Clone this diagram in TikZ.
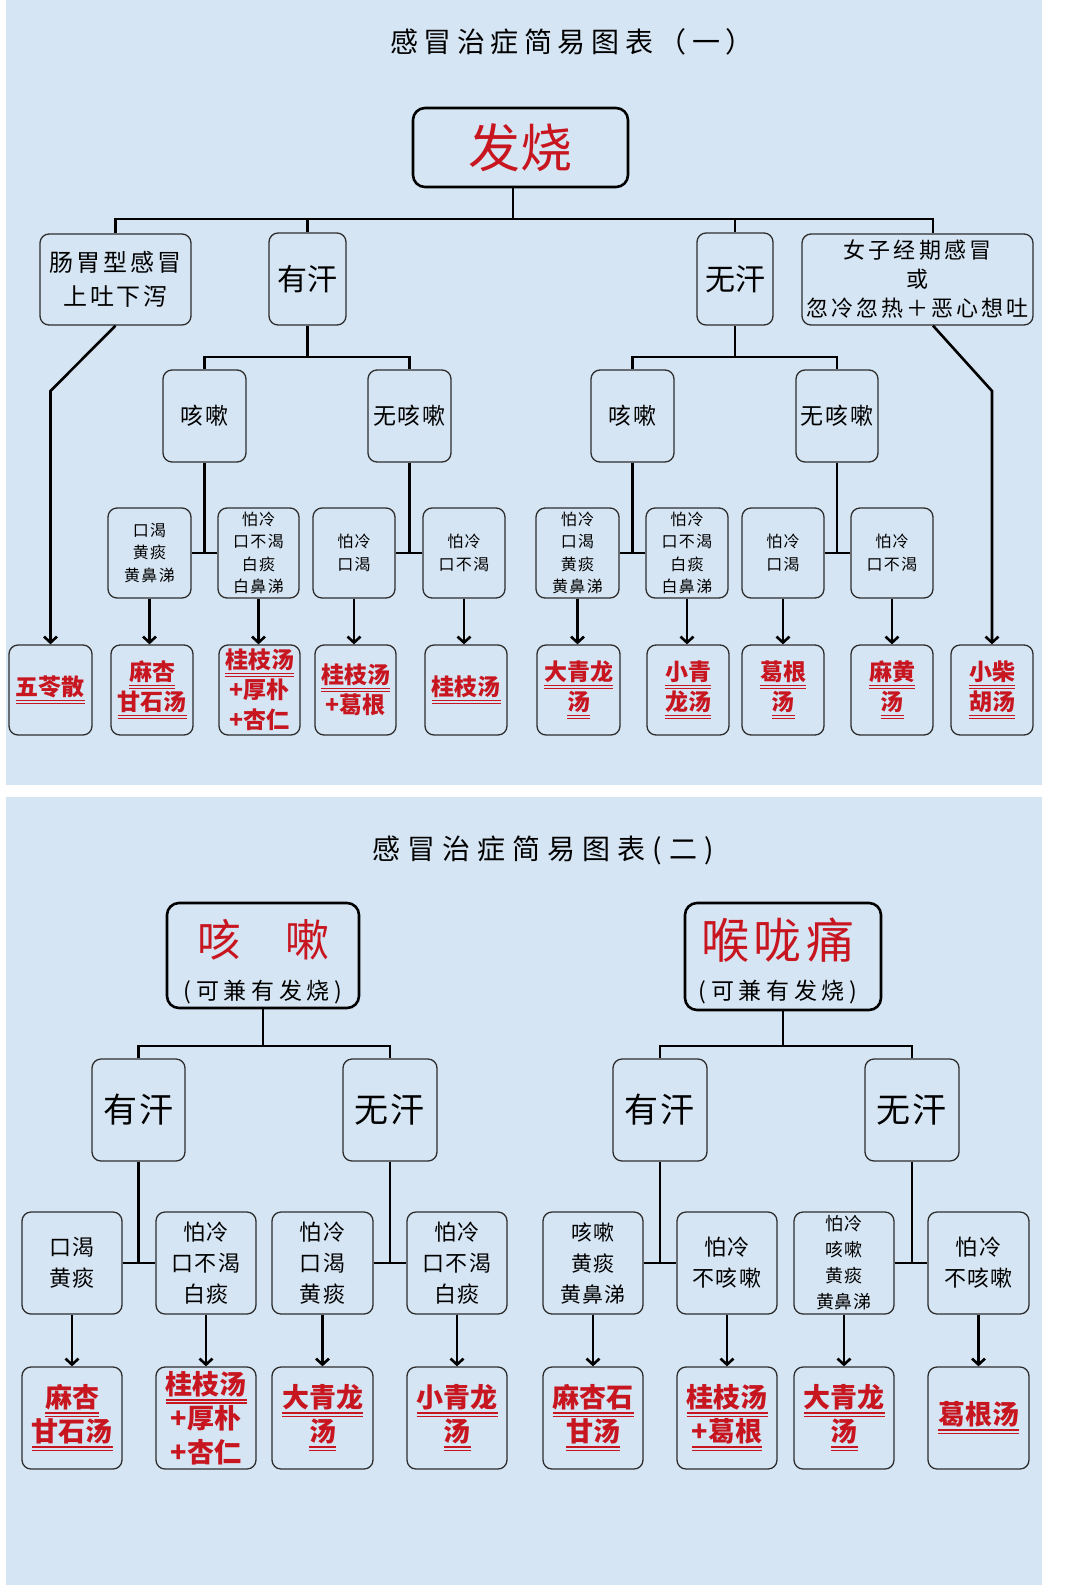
\documentclass[tikz,border=0pt]{standalone}
\usepackage{fontspec}
\setmainfont{Noto Sans CJK SC}
\usetikzlibrary{arrows.meta}
\definecolor{bg}{RGB}{214,229,243}
\definecolor{rd}{RGB}{200,22,32}
\definecolor{bd}{RGB}{45,45,45}
\newcommand\fsz[2]{\fontsize{#1}{#2}\selectfont}
\newcommand\lsp[1]{\addfontfeature{LetterSpace=#1}}
\newcommand\uln[1]{\setbox0\hbox{#1}\leavevmode\rlap{\rule[-0.24em]{\wd0}{0.07em}}\rlap{\rule[-0.36em]{\wd0}{0.06em}}\box0}
\newcommand\Bx[7][box]{\node[#1, minimum width={(#5-#3)*1pt}, minimum height={(#6-#4)*1pt}] (#2) at ({(#3+#5)/2},{(#4+#6)/2}) {#7};}
\tikzset{
  box/.style={draw=bd, line width=1.3pt, rounded corners=9pt, inner sep=0pt, align=center},
  hbox/.style={box, draw=black, line width=2.6pt, rounded corners=12pt},
  conn/.style={line width=2.6pt, black},
  arr/.style={conn, -{Straight Barb[length=6pt,width=13pt]}},
  mid/.style={box, font=\fsz{23}{28}\lsp{8}},
  ch/.style={box, font=\fsz{16}{22.5}\lsp{8}},
  res/.style={box, text=rd, font=\bfseries\fsz{23}{30}},
  chb/.style={box, font=\fsz{22}{31}\lsp{5}},
  resb/.style={box, text=rd, font=\bfseries\fsz{27}{34}},
}
\begin{document}
\begin{tikzpicture}[x=1pt,y=-1pt]
\useasboundingbox (0,0) rectangle (1080,1585);
\fill[white] (0,0) rectangle (1080,1585);
\fill[bg] (6,0) rectangle (1042,785);
\fill[bg] (6,797) rectangle (1042,1585);

% ---------- Panel 1 ----------
\node[font=\fsz{28}{32}\lsp{20}] (t1) at (572,42) {感冒治症简易图表（一）};
\Bx[hbox,text=rd,font=\fsz{52}{60}]{fs}{413}{108}{628}{187}{发烧}
\Bx[box,font=\fsz{24}{34}\lsp{12}]{gut}{40}{234}{191}{325}{肠胃型感冒\\上吐下泻}
\Bx[box,font=\fsz{30}{36}]{yh1}{269}{233}{346}{325}{有汗}
\Bx[box,font=\fsz{30}{36}]{wh1}{697}{233}{773}{325}{无汗}
\Bx[box,font=\fsz{22}{29}\lsp{14}]{wom}{802}{234}{1033}{325}{女子经期感冒\\或\\忽冷忽热＋恶心想吐}

\Bx[mid]{ks1}{163}{370}{246}{462}{咳嗽}
\Bx[mid]{nks1}{368}{370}{451}{462}{无咳嗽}
\Bx[mid]{ks2}{591}{370}{674}{462}{咳嗽}
\Bx[mid]{nks2}{796}{370}{878}{462}{无咳嗽}

\Bx[ch]{c1}{108}{508}{191}{598}{口渴\\黄痰\\黄鼻涕}
\Bx[ch]{c2}{218}{508}{299}{598}{怕冷\\口不渴\\白痰\\白鼻涕}
\Bx[ch]{c3}{313}{508}{395}{598}{怕冷\\口渴}
\Bx[ch]{c4}{423}{508}{505}{598}{怕冷\\口不渴}
\Bx[ch]{c5}{536}{508}{619}{598}{怕冷\\口渴\\黄痰\\黄鼻涕}
\Bx[ch]{c6}{646}{508}{728}{598}{怕冷\\口不渴\\白痰\\白鼻涕}
\Bx[ch]{c7}{742}{508}{824}{598}{怕冷\\口渴}
\Bx[ch]{c8}{851}{508}{933}{598}{怕冷\\口不渴}

\Bx[res]{r1}{9}{645}{92}{735}{\uln{五苓散}}
\Bx[res]{r2}{111}{645}{193}{735}{\uln{麻杏}\\\uln{甘石汤}}
\Bx[res]{r3}{219}{645}{300}{735}{\uln{桂枝汤}\\+厚朴\\+杏仁}
\Bx[res]{r4}{315}{645}{396}{735}{\uln{桂枝汤}\\+葛根}
\Bx[res]{r5}{425}{645}{507}{735}{\uln{桂枝汤}}
\Bx[res]{r6}{537}{645}{620}{735}{\uln{大青龙}\\\uln{汤}}
\Bx[res]{r7}{647}{645}{729}{735}{\uln{小青}\\\uln{龙汤}}
\Bx[res]{r8}{742}{645}{824}{735}{\uln{葛根}\\\uln{汤}}
\Bx[res]{r9}{851}{645}{933}{735}{\uln{麻黄}\\\uln{汤}}
\Bx[res]{r10}{951}{645}{1033}{735}{\uln{小柴}\\\uln{胡汤}}

\coordinate (b1) at (0,219);
\coordinate (fx) at (513,0);
\coordinate (wx) at (933,0);
\coordinate (b2) at (0,357);
\coordinate (g1) at (50.5,391);
\coordinate (w1) at (992,391);
\draw[conn] (fs.south -| fx) -- (b1 -| fx);
\draw[conn] (gut.north) |- (b1 -| wx) -- (wom.north -| wx);
\draw[conn] (yh1.north) -- (yh1.north |- b1);
\draw[conn] (wh1.north) -- (wh1.north |- b1);
\draw[conn] (ks1.north) |- (b2 -| nks1.north) -- (nks1.north);
\draw[conn] (yh1.south) -- (yh1.south |- b2);
\draw[conn] (ks2.north) |- (b2 -| nks2.north) -- (nks2.north);
\draw[conn] (wh1.south) -- (wh1.south |- b2);
\draw[conn] (ks1.south) -- (ks1.south |- c1.east);
\draw[conn] (c1.east) -- (c2.west);
\draw[conn] (nks1.south) -- (nks1.south |- c3.east);
\draw[conn] (c3.east) -- (c4.west);
\draw[conn] (ks2.south) -- (ks2.south |- c5.east);
\draw[conn] (c5.east) -- (c6.west);
\draw[conn] (nks2.south) -- (nks2.south |- c7.east);
\draw[conn] (c7.east) -- (c8.west);
\draw[arr] (gut.south) -- (g1) -- (r1.north);
\draw[arr] (wom.south -| wx) -- (w1) -- (r10.north);
\draw[arr] (c1.south) -- (c1.south |- r2.north);
\draw[arr] (c2.south) -- (c2.south |- r3.north);
\draw[arr] (c3.south) -- (c3.south |- r4.north);
\draw[arr] (c4.south) -- (c4.south |- r5.north);
\draw[arr] (c5.south) -- (c5.south |- r6.north);
\draw[arr] (c6.south) -- (c6.south |- r7.north);
\draw[arr] (c7.south) -- (c7.south |- r8.north);
\draw[arr] (c8.south) -- (c8.south |- r9.north);

% ---------- Panel 2 ----------
\node[font=\fsz{28}{32}\lsp{25}] (t2) at (543,850) {感冒治症简易图表(二)};
\Bx[hbox]{ksB}{167}{903}{359}{1008}{}
\node[text=rd,font=\fsz{44}{50}] (ksBt) at (263,940) {咳\hspace{1em}嗽};
\node[font=\fsz{23}{28}\lsp{20}] (ksBs) at (263,992) {(可兼有发烧)};
\Bx[hbox]{hlt}{685}{903}{881}{1010}{}
\node[text=rd,font=\fsz{48}{54}\lsp{10}] (hltt) at (778,940) {喉咙痛};
\node[font=\fsz{23}{28}\lsp{20}] (hlts) at (778,992) {(可兼有发烧)};

\Bx[box,font=\fsz{34}{40}\lsp{6}]{yh2}{92}{1059}{185}{1161}{有汗}
\Bx[box,font=\fsz{34}{40}\lsp{6}]{wh2}{343}{1059}{437}{1161}{无汗}
\Bx[box,font=\fsz{34}{40}\lsp{6}]{yh3}{613}{1059}{707}{1161}{有汗}
\Bx[box,font=\fsz{34}{40}\lsp{6}]{wh3}{865}{1059}{959}{1161}{无汗}

\Bx[chb]{d1}{22}{1212}{122}{1314}{口渴\\黄痰}
\Bx[chb]{d2}{156}{1212}{256}{1314}{怕冷\\口不渴\\白痰}
\Bx[chb]{d3}{272}{1212}{373}{1314}{怕冷\\口渴\\黄痰}
\Bx[chb]{d4}{407}{1212}{507}{1314}{怕冷\\口不渴\\白痰}
\Bx[box,font=\fsz{21}{31}\lsp{5}]{d5}{543}{1212}{643}{1314}{咳嗽\\黄痰\\黄鼻涕}
\Bx[chb]{d6}{677}{1212}{777}{1314}{怕冷\\不咳嗽}
\Bx[box,font=\fsz{18}{26}\lsp{5}]{d7}{794}{1212}{894}{1314}{怕冷\\咳嗽\\黄痰\\黄鼻涕}
\Bx[chb]{d8}{928}{1212}{1029}{1314}{怕冷\\不咳嗽}

\Bx[resb]{s1}{22}{1367}{122}{1469}{\uln{麻杏}\\\uln{甘石汤}}
\Bx[resb]{s2}{156}{1367}{256}{1469}{\uln{桂枝汤}\\+厚朴\\+杏仁}
\Bx[resb]{s3}{272}{1367}{373}{1469}{\uln{大青龙}\\\uln{汤}}
\Bx[resb]{s4}{407}{1367}{507}{1469}{\uln{小青龙}\\\uln{汤}}
\Bx[resb]{s5}{543}{1367}{643}{1469}{\uln{麻杏石}\\\uln{甘汤}}
\Bx[resb]{s6}{677}{1367}{777}{1469}{\uln{桂枝汤}\\\uln{+葛根}}
\Bx[resb]{s7}{794}{1367}{894}{1469}{\uln{大青龙}\\\uln{汤}}
\Bx[resb]{s8}{928}{1367}{1029}{1469}{\uln{葛根汤}}

\coordinate (b3) at (0,1046);
\draw[conn] (ksB.south) -- (ksB.south |- b3);
\draw[conn] (yh2.north) |- (b3 -| wh2.north) -- (wh2.north);
\draw[conn] (hlt.south) -- (hlt.south |- b3);
\draw[conn] (yh3.north) |- (b3 -| wh3.north) -- (wh3.north);
\draw[conn] (yh2.south) -- (yh2.south |- d1.east);
\draw[conn] (d1.east) -- (d2.west);
\draw[conn] (wh2.south) -- (wh2.south |- d3.east);
\draw[conn] (d3.east) -- (d4.west);
\draw[conn] (yh3.south) -- (yh3.south |- d5.east);
\draw[conn] (d5.east) -- (d6.west);
\draw[conn] (wh3.south) -- (wh3.south |- d7.east);
\draw[conn] (d7.east) -- (d8.west);
\draw[arr] (d1.south) -- (d1.south |- s1.north);
\draw[arr] (d2.south) -- (d2.south |- s2.north);
\draw[arr] (d3.south) -- (d3.south |- s3.north);
\draw[arr] (d4.south) -- (d4.south |- s4.north);
\draw[arr] (d5.south) -- (d5.south |- s5.north);
\draw[arr] (d6.south) -- (d6.south |- s6.north);
\draw[arr] (d7.south) -- (d7.south |- s7.north);
\draw[arr] (d8.south) -- (d8.south |- s8.north);
\end{tikzpicture}
\end{document}
